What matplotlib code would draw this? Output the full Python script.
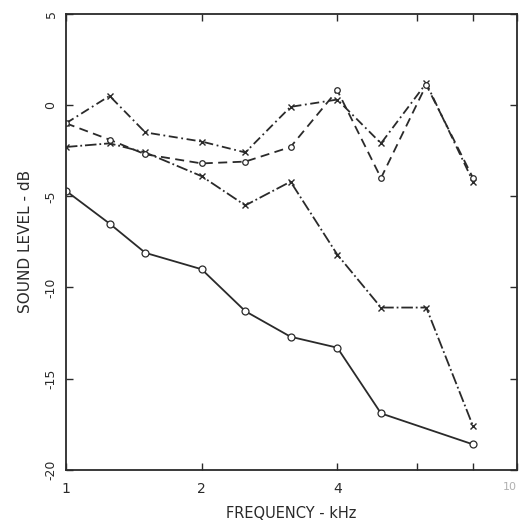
import matplotlib
matplotlib.use("Agg")
import matplotlib.pyplot as plt
from matplotlib.ticker import FixedLocator, NullLocator

# frequencies (kHz), third-octave-ish bands as drawn
freq = [1.0, 1.25, 1.5, 2.0, 2.5, 3.15, 4.0, 5.0, 6.3, 8.0]
freq_low = [1.0, 1.25, 1.5, 2.0, 2.5, 3.15, 4.0, 5.0, 8.0]

# sound level (dB) per curve
level_a = [-1.0, 0.5, -1.5, -2.0, -2.6, -0.1, 0.3, -2.1, 1.2, -4.2]
level_b = [-2.3, -2.1, -2.6, -3.9, -5.5, -4.2, -8.2, -11.1, -11.1, -17.6]
level_c = [-1.0, -1.9, -2.7, -3.2, -3.1, -2.3, 0.8, -4.0, 1.1, -4.0]
level_d = [-4.7, -6.5, -8.1, -9.0, -11.3, -12.7, -13.3, -16.9, -18.6]

x_ticks = [1, 2, 4, 6, 8, 10]
x_labels = ["1", "2", "4", "", "", "10"]
y_ticks = [5, 0, -5, -10, -15, -20]
y_labels = ["5", "0", "-5", "-10", "-15", "-20"]

ink = "#2a2a2a"

fig = plt.figure(figsize=(5.23, 5.31), dpi=100)
ax = fig.add_axes([0.126, 0.115, 0.862, 0.859])

ax.plot(freq, level_a, color=ink, lw=1.3, ls=(0, (5, 2, 1, 2)),
        marker="x", ms=4, mew=1.0)
ax.plot(freq, level_b, color=ink, lw=1.3, ls="-.",
        marker="x", ms=4, mew=1.0)
ax.plot(freq, level_c, color=ink, lw=1.3, ls=(0, (5, 3)),
        marker="o", ms=4, mfc="white", mew=0.9)
ax.plot(freq_low, level_d, color=ink, lw=1.3, ls="-",
        marker="o", ms=5, mfc="white", mew=0.9)

ax.set_xscale("log")
ax.set_xlim(1, 10)
ax.set_ylim(-20, 5)
ax.xaxis.set_major_locator(FixedLocator(x_ticks))
ax.xaxis.set_minor_locator(NullLocator())
ax.set_xticklabels(x_labels, fontsize=10, color=ink)
last = ax.get_xticklabels()[-1]
last.set_color("#b0b0b0")
last.set_fontsize(8)
last.set_horizontalalignment("right")
ax.set_yticks(y_ticks)
ax.set_yticklabels(y_labels, fontsize=9, color=ink, rotation=90, va="center")
ax.tick_params(direction="in", top=True, right=True, length=5, width=1.0,
               color=ink)
ax.tick_params(axis="x", pad=9)
ax.tick_params(axis="y", pad=6)
for sp in ax.spines.values():
    sp.set_color(ink)
    sp.set_linewidth(1.3)

ax.set_xlabel("FREQUENCY - kHz", fontsize=10.5, color=ink, labelpad=7)
ax.set_ylabel("SOUND LEVEL - dB", fontsize=11, color=ink, labelpad=8)

fig.savefig("out.png", dpi=100)
plt.close(fig)
